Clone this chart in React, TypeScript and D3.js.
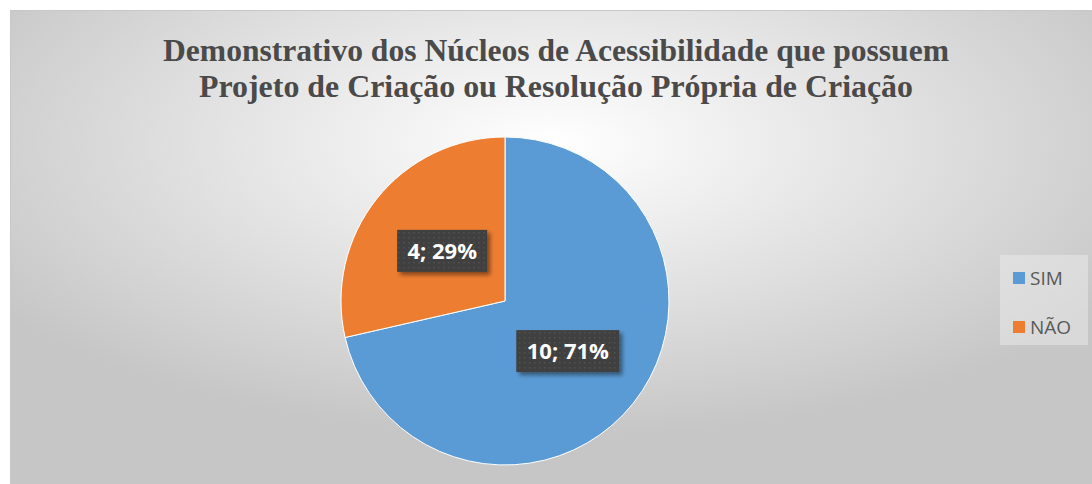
import React from 'react';
import * as d3 from 'd3';

const categories = ['SIM', 'NÃO'];
const values = [10, 4];
const percents = ['71%', '29%'];
const colors = ['#5B9BD5', '#ED7D31'];
const titleLines = [
  'Demonstrativo dos Núcleos de Acessibilidade que possuem',
  'Projeto de Criação ou Resolução Própria de Criação',
];
const titleWidths = [786, 714];

const W = 1092;
const H = 484;

export default function App() {
  const cx = 505;
  const cy = 301;
  const radius = 164;

  const pie = d3.pie<number>().sort(null).value(d => d);
  const arcs = pie(values);
  const arc = d3.arc<d3.PieArcDatum<number>>().innerRadius(0).outerRadius(radius);
  const labelArc = d3.arc<d3.PieArcDatum<number>>().innerRadius(0).outerRadius(radius * 0.98);

  const legendY = d3.scalePoint<string>().domain(categories).range([278, 327]);

  return (
    <div style={{ position: 'absolute', left: 0, top: 0, width: W, height: H, background: '#fff' }}>
      <svg width={W} height={H} style={{ display: 'block' }}>
        <defs>
          <radialGradient id="bg" cx="50%" cy="28%" r="62%" fx="50%" fy="28%">
            <stop offset="0%" stopColor="#ffffff" />
            <stop offset="100%" stopColor="#c6c6c6" />
          </radialGradient>
          <pattern id="dots" width="5" height="5" patternUnits="userSpaceOnUse">
            <rect width="5" height="5" fill="#3f3f3f" />
            <rect x="1" y="1" width="1.5" height="1.5" fill="#555" />
          </pattern>
          <filter id="shadow" x="-20%" y="-20%" width="150%" height="160%">
            <feDropShadow dx="3" dy="3" stdDeviation="2" floodColor="#000" floodOpacity="0.45" />
          </filter>
        </defs>
        <rect x={10} y={10} width={W - 10} height={H - 10} fill="url(#bg)" />
        <line x1={10} y1={10.5} x2={W} y2={10.5} stroke="#c8c8c8" />
        <line x1={10.5} y1={10} x2={10.5} y2={H} stroke="#c8c8c8" />

        {titleLines.map((t, i) => (
          <text
            key={i}
            x={556}
            y={61 + i * 36}
            textAnchor="middle"
            textLength={titleWidths[i]}
            lengthAdjust="spacingAndGlyphs"
            fontFamily="'Liberation Serif', 'Times New Roman', serif"
            fontWeight="bold"
            fontSize={31}
            fill="#4a4a4a"
          >
            {t}
          </text>
        ))}

        <g transform={`translate(${cx},${cy})`}>
          {arcs.map((a, i) => (
            <path key={i} d={arc(a) || ''} fill={colors[i]} stroke="#fff" strokeWidth={1} />
          ))}
          {arcs.map((a, i) => {
            const [lx, ly] = labelArc.centroid(a);
            const label = `${values[i]}; ${percents[i]}`;
            const bw = label.length * 13 + 12;
            const bh = 42;
            return (
              <g key={'l' + i} transform={`translate(${lx},${ly})`}>
                <rect x={-bw / 2} y={-bh / 2} width={bw} height={bh} fill="url(#dots)" filter="url(#shadow)" />
                <text
                  x={0}
                  y={8}
                  textAnchor="middle"
                  fontFamily="'Open Sans', Lato, sans-serif"
                  fontWeight="bold"
                  fontSize={22}
                  fill="#fff"
                >
                  {label}
                </text>
              </g>
            );
          })}
        </g>

        <rect x={1000} y={255} width={88} height={90} fill="#ececec" opacity={0.5} />
        {categories.map((c, i) => (
          <g key={c} transform={`translate(1013,${legendY(c)})`}>
            <rect x={0} y={-6} width={12} height={12} fill={colors[i]} />
            <text x={17} y={7} fontFamily="'Open Sans', Lato, sans-serif" fontSize={19} fill="#595959">
              {c}
            </text>
          </g>
        ))}
      </svg>
    </div>
  );
}
